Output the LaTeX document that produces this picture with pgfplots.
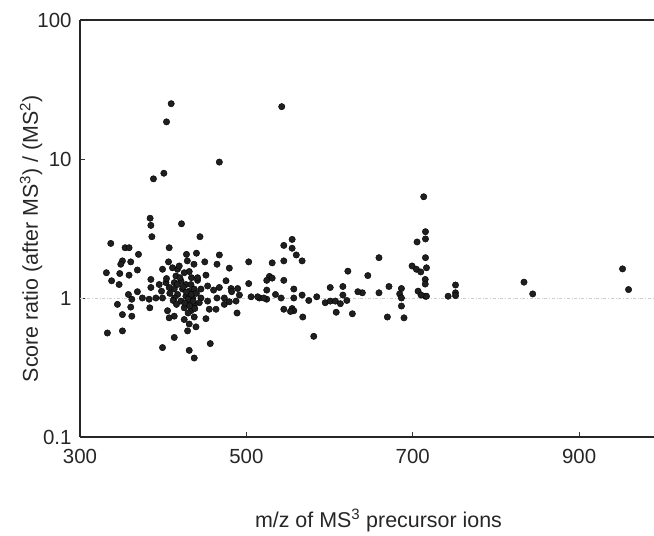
\documentclass[border=0pt]{standalone}
\usepackage{pgfplots}
\pgfplotsset{compat=1.18}
\usepackage{pgfplotstable}
\usepackage{fontspec}
\setmainfont{Liberation Sans}
\pgfplotstableread{
x y
409.6 25.0
404 18.5
542.5 23.8
467.5 9.5
400.8 7.9
388.3 7.2
713.2 5.35
715.3 3.0
715.3 2.66
705.2 2.53
715.3 1.95
659.4 1.95
646 1.45
699.2 1.70
704.4 1.61
709.6 1.54
716.5 1.65
715 1.36
715 1.26
706.4 1.12
715 1.03
716.5 1.03
710 1.05
671.4 1.21
659.4 1.09
639.4 1.09
686.4 1.17
684.3 1.07
686.4 1.00
686.4 0.875
669.5 0.73
689.5 0.72
742.5 1.03
751.4 1.24
751.4 1.09
751.4 1.04
833.7 1.30
844.2 1.07
952.2 1.62
959.4 1.15
555 2.64
545 2.39
555 2.28
560 2.04
567 1.85
531 1.79
545 1.85
527.7 1.43
531 1.39
524.5 1.34
545 1.34
622 1.56
524.5 1.14
557 1.16
600.8 1.19
616 1.21
634 1.11
515.7 1.0
524.5 0.98
535 1.06
541.8 1.0
557 1.0
567 1.05
575 0.96
584.6 1.02
594.8 0.925
600.8 0.95
607 0.95
613 0.91
620.8 0.96
616 1.05
545 0.83
555 0.84
557 0.81
553 0.80
567.8 0.73
608 0.79
627.4 0.77
581 0.53
502.8 1.82
502.8 1.27
505.7 1.02
513.6 1.02
521 1.0
422 3.42
444.2 2.76
428 2.06
440 2.10
429 1.85
437 1.75
450 1.82
467.5 2.04
464.7 1.75
479.5 1.64
417.2 1.61
431.3 1.55
451.4 1.46
475.5 1.33
415.3 1.44
441.3 1.34
453.4 1.22
467.5 1.19
481.6 1.17
489.5 1.17
460.6 1.14
482.3 1.11
491.6 1.05
473.5 1.0
464.7 1.0
445.4 1.0
453.4 0.95
443.4 0.925
473.5 0.90
487.6 0.95
479.5 0.94
455.4 0.83
463.5 0.83
451.4 0.71
488.8 0.78
413.3 0.74
425.3 0.70
437.3 0.73
431.3 0.65
439.4 0.62
429.3 0.58
413.3 0.52
456.6 0.47
431.3 0.42
437.3 0.37
419.3 1.70
425.3 1.52
421.3 1.33
427.3 1.25
433.3 1.25
423.3 1.16
431.3 1.12
437.3 1.16
445.4 1.16
417.3 1.06
427.3 1.03
435.3 1.0
421.3 0.95
429.3 0.925
437.3 0.90
425.3 0.85
433.3 0.81
413.3 1.0
413.3 1.16
441.3 1.40
384.3 3.75
385.2 3.33
386.4 2.76
337 2.47
354.2 2.30
359 2.30
407.2 2.30
370.3 2.06
351 1.85
361 1.82
406.4 1.82
349 1.75
369 1.59
399.2 1.61
411.2 1.65
331.7 1.52
347.8 1.50
359 1.46
338 1.33
347 1.25
385.2 1.36
385.2 1.19
395.2 1.25
403.3 1.29
407.2 1.19
413.3 1.29
369 1.11
358.2 1.06
362.3 0.98
375 1.0
383.1 0.98
391.2 1.0
399.2 1.0
345 0.90
361 0.86
383.9 0.85
351 0.76
362.3 0.74
405.2 0.81
407.2 0.72
332.9 0.56
351 0.58
399.2 0.44
398 1.12
408 1.08
412 0.96
416 0.90
404 1.38
417 1.25
424 1.20
428 1.10
434 1.06
430 0.98
426 0.92
432 0.88
436 0.95
440 1.08
420 1.40
434 1.40
438 0.84
430 0.78
}\ratiodata
\begin{document}
\begin{tikzpicture}
\path[use as bounding box] (-80bp,-99bp) rectangle (574bp,437bp);
\begin{axis}[
  at={(0,0)}, anchor=south west,
  scale only axis, width=574bp, height=417bp,
  xmin=300, xmax=990, ymode=log, ymin=0.1, ymax=100,
  axis x line=box, axis y line=left,
  axis line style={-, line width=1.1bp, black!85},
  xtick={300,500,700,900}, ytick={0.1,1,10,100},
  yticklabels={0.1,1,10,100},
  xtick pos=left, ytick pos=left,
  tick align=inside, major tick length=5bp, yminorticks=false,
  tick style={black!80, line width=0.6bp},
  /pgf/number format/assume math mode=true,
  tick label style={font=\fontsize{20.5}{24}\selectfont, black!85},
  xticklabel style={yshift=-9bp},
  yticklabel style={xshift=-5bp},
  label style={font=\fontsize{21.5}{25}\selectfont, black!85},
  xlabel={m/z of MS\textsuperscript{3} precursor ions},
  ylabel={Score ratio (after MS\textsuperscript{3}) / (MS\textsuperscript{2})},
  xlabel style={at={(axis description cs:0.52,-0.216)}, anchor=base},
  ylabel style={at={(axis description cs:-0.085,0.475)}, anchor=center},
  clip=false,
]
\addplot[gray!40, dash dot, line width=0.7bp] coordinates {(300,1) (990,1)};
\addplot[only marks, mark=*, mark size=3.2bp, mark options={draw=none, fill=black!88}] table {\ratiodata};
\end{axis}
\end{tikzpicture}
\end{document}
